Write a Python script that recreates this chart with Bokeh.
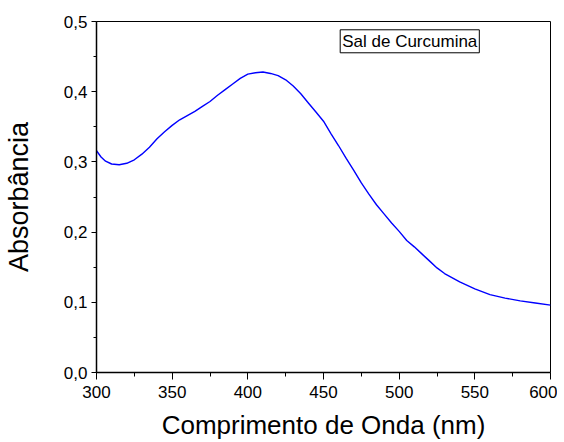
from bokeh.plotting import figure
from bokeh.models import FixedTicker, Label
from bokeh.embed import file_html
from bokeh.resources import INLINE

wavelength = [300, 303, 306, 310, 315, 320, 325, 330, 335, 340, 345, 350, 355, 360, 365,
              370, 375, 380, 385, 390, 395, 400, 405, 410, 415, 420, 425, 430, 435, 440,
              445, 450, 455, 460, 465, 470, 475, 480, 485, 490, 495, 500, 505, 510, 515,
              520, 525, 530, 540, 550, 560, 570, 580, 590, 600]
absorbance = [0.316, 0.307, 0.301, 0.297, 0.296, 0.298, 0.303, 0.311, 0.321, 0.333, 0.343,
              0.352, 0.360, 0.366, 0.372, 0.379, 0.386, 0.395, 0.403, 0.411, 0.419, 0.425,
              0.427, 0.428, 0.426, 0.423, 0.417, 0.408, 0.397, 0.384, 0.371, 0.358, 0.340,
              0.323, 0.305, 0.288, 0.270, 0.254, 0.239, 0.226, 0.213, 0.201, 0.188, 0.179,
              0.169, 0.159, 0.149, 0.141, 0.129, 0.119, 0.111, 0.106, 0.102, 0.099, 0.096]

x_ticks = [300, 350, 400, 450, 500, 550, 600]
x_minor = [325, 375, 425, 475, 525, 575]
y_ticks = [0.0, 0.1, 0.2, 0.3, 0.4, 0.5]
y_minor = [0.05, 0.15, 0.25, 0.35, 0.45]
y_labels = ["0,0", "0,1", "0,2", "0,3", "0,4", "0,5"]
series_name = "Sal de Curcumina"

FONT = "Liberation Sans"

p = figure(width=557, height=442, output_backend="svg", toolbar_location=None,
           x_range=(300, 600), y_range=(0, 0.5),
           min_border_left=96, min_border_right=7, min_border_top=21, min_border_bottom=70)
p.grid.visible = False
p.outline_line_color = "black"
p.outline_line_width = 1
p.background_fill_color = "white"
p.border_fill_color = "white"

p.line(wavelength, absorbance, line_color="#0000ff", line_width=1.4)

for ax in (p.xaxis[0], p.yaxis[0]):
    ax.axis_line_color = "black"
    ax.axis_line_width = 1.5
    ax.major_tick_in = 0
    ax.minor_tick_in = 0
    ax.major_tick_line_color = "black"
    ax.minor_tick_line_color = "black"
    ax.major_label_text_font = FONT
    ax.major_label_text_font_size = "17px"
    ax.major_label_text_color = "black"
    ax.axis_label_text_font = FONT
    ax.axis_label_text_font_style = "normal"
    ax.axis_label_text_color = "black"

p.xaxis.major_tick_out = 7
p.xaxis.minor_tick_out = 4
p.yaxis.major_tick_out = 5
p.yaxis.minor_tick_out = 3
p.xaxis.axis_label_text_font_size = "26px"
p.yaxis.axis_label_text_font_size = "27px"

p.xaxis.ticker = FixedTicker(ticks=x_ticks, minor_ticks=x_minor)
p.yaxis.ticker = FixedTicker(ticks=y_ticks, minor_ticks=y_minor)
p.yaxis.major_label_overrides = {t: l for t, l in zip(y_ticks, y_labels)}
p.xaxis.axis_label = "Comprimento de Onda (nm)"
p.yaxis.axis_label = "Absorbância"
p.xaxis.major_label_standoff = 6
p.yaxis.major_label_standoff = 4
p.xaxis.axis_label_standoff = 9
p.yaxis.axis_label_standoff = 27

lbl = Label(x=507, y=0.4718, text=series_name, text_align="center", text_baseline="middle",
            text_font=FONT, text_font_size="17px", text_color="black",
            border_line_color="black", border_line_width=1,
            background_fill_color="white", padding=2)
p.add_layout(lbl)

open("out.html", "w").write(file_html(p, INLINE))
